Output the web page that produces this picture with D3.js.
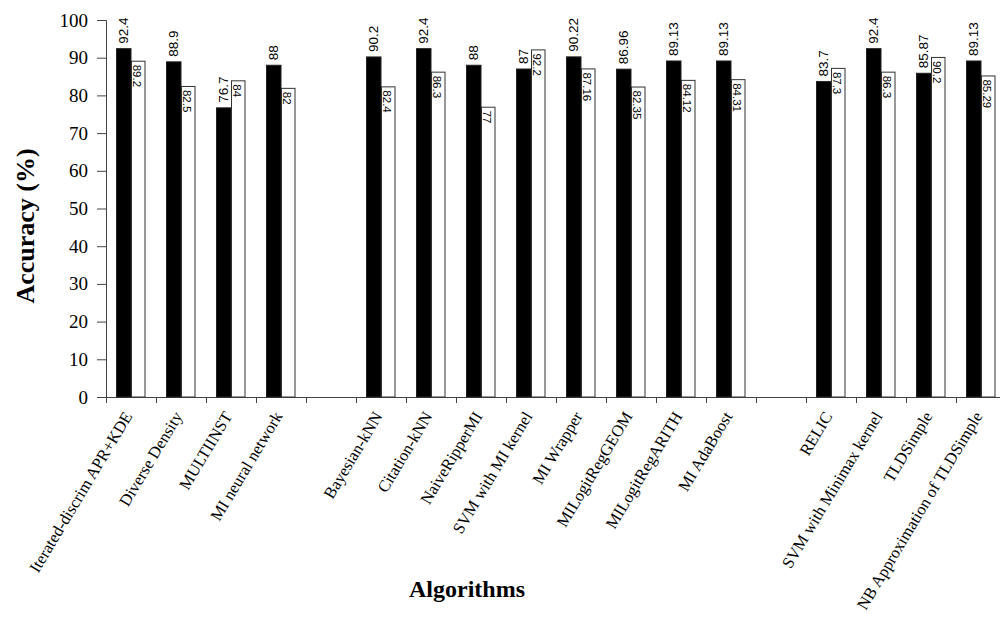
<!DOCTYPE html>
<html><head><meta charset="utf-8">
<script src="https://cdn.jsdelivr.net/npm/d3@7"></script>
<style>body{margin:0;background:#fff}</style>
</head><body>
<svg id="chart" width="1000" height="623"></svg>
<script>
const categories = ["Iterated-discrim APR+KDE","Diverse Density","MULTIINST","MI neural network","",
  "Bayesian-kNN","Citation-kNN","NaiveRipperMI","SVM with MI kernel","MI Wrapper","MILogitRegGEOM","MILogitRegARITH","MI AdaBoost","",
  "RELIC","SVM with Minimax kernel","TLDSimple","NB Approximation of TLDSimple"];
const seriesBlack = [92.4,88.9,76.7,88,null,90.2,92.4,88,87,90.22,86.96,89.13,89.13,null,83.7,92.4,85.87,89.13];
const seriesWhite = [89.2,82.5,84,82,null,82.4,86.3,77,92.2,87.16,82.35,84.12,84.31,null,87.3,86.3,90.2,85.29];
const blackLabels = ["92.4","88.9","76.7","88","","90.2","92.4","88","87","90.22","86.96","89.13","89.13","","83.7","92.4","85.87","89.13"];
const whiteLabels = ["89.2","82.5","84","82","","82.4","86.3","77","92.2","87.16","82.35","84.12","84.31","","87.3","86.3","90.2","85.29"];
const yTicks = [0,10,20,30,40,50,60,70,80,90,100];

(function(){
const svg = d3.select("#chart");
const pLeft = 106, pRight = 1006, pTop = 20, pBottom = 397;
const x = d3.scaleBand().domain(d3.range(categories.length)).range([pLeft, pRight]).padding(0);
const sub = d3.scaleBand().domain(["black","white"]).range([10.5, 39.5]).padding(0);
const y = d3.scaleLinear().domain([0,100]).range([pBottom, pTop]);

// y axis
const yAxis = svg.append("g").attr("transform", `translate(${pLeft},0)`)
  .call(d3.axisLeft(y).tickValues(yTicks).tickFormat(d3.format("d")).tickSize(9).tickPadding(9));
yAxis.select(".domain").attr("stroke","#444");
yAxis.selectAll(".tick line").attr("stroke","#444");
yAxis.selectAll("text").attr("font-family","Liberation Serif, serif").attr("font-size",19).attr("fill","#000");

// x axis line and ticks at band boundaries
svg.append("line").attr("x1", pLeft).attr("x2", pRight).attr("y1", pBottom+0.5).attr("y2", pBottom+0.5).attr("stroke","#444");
svg.append("g").selectAll("line").data(d3.range(categories.length+1)).join("line")
  .attr("x1", i => (i < categories.length ? x(i) : pRight) + 0.5)
  .attr("x2", i => (i < categories.length ? x(i) : pRight) + 0.5)
  .attr("y1", pBottom).attr("y2", pBottom+6).attr("stroke","#444");

// bars
const g = svg.append("g");
const idx = d3.range(categories.length).filter(i => seriesBlack[i] != null);
g.selectAll("rect.b").data(idx).join("rect").attr("class","b")
  .attr("x", i => x(i) + sub("black")).attr("width", sub.bandwidth())
  .attr("y", i => y(seriesBlack[i])).attr("height", i => pBottom - y(seriesBlack[i]))
  .attr("fill","#000").attr("stroke","#222").attr("stroke-width",1);
g.selectAll("rect.w").data(idx).join("rect").attr("class","w")
  .attr("x", i => x(i) + sub("white") + 0.5).attr("width", sub.bandwidth() - 1)
  .attr("y", i => y(seriesWhite[i]) + 0.5).attr("height", i => pBottom - y(seriesWhite[i]) - 0.5)
  .attr("fill","#fff").attr("stroke","#333").attr("stroke-width",1);

// labels black (rotated -90, above bar)
g.selectAll("text.bl").data(idx).join("text").attr("class","bl")
  .attr("transform", i => `translate(${x(i) + sub("black") + sub.bandwidth()/2 + 4},${y(seriesBlack[i]) - 5}) rotate(-90)`)
  .attr("font-family","Liberation Sans, Arial, sans-serif").attr("font-size",13.5)
  .attr("fill","#000").text(i => blackLabels[i]);
// labels white (rotated 90, inside top of bar)
g.selectAll("text.wl").data(idx).join("text").attr("class","wl")
  .attr("transform", i => `translate(${x(i) + sub("white") + 2},${y(seriesWhite[i]) + 4}) rotate(90)`)
  .attr("font-family","Liberation Sans, Arial, sans-serif").attr("font-size",11.5)
  .attr("fill","#000").text(i => whiteLabels[i]);

// category labels
svg.append("g").selectAll("text").data(d3.range(categories.length)).join("text")
  .attr("transform", i => `translate(${x(i) + x.bandwidth()/2 + 2},${pBottom + 19}) rotate(-59)`)
  .attr("text-anchor","end")
  .attr("font-family","Liberation Serif, serif").attr("font-size",16.5).attr("fill","#000")
  .text(i => categories[i]);

// axis titles
svg.append("text").attr("transform","translate(34,226) rotate(-90)").attr("text-anchor","middle")
  .attr("font-family","Liberation Serif, serif").attr("font-weight","bold").attr("font-size",26)
  .text("Accuracy (%)");
svg.append("text").attr("x",467).attr("y",597).attr("text-anchor","middle")
  .attr("font-family","Liberation Serif, serif").attr("font-weight","bold").attr("font-size",24)
  .text("Algorithms");
})();
</script>
</body></html>
